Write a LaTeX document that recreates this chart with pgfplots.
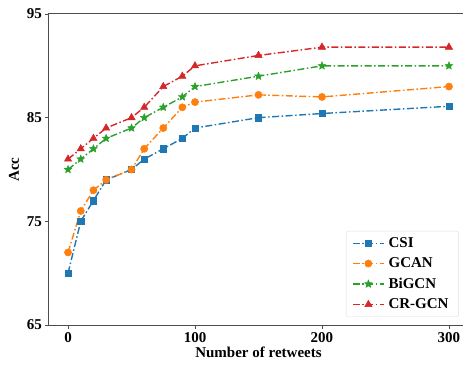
\documentclass[border=0pt]{standalone}
\usepackage{fontspec}
\setmainfont{Liberation Serif}
\usepackage{pgfplots}
\pgfplotsset{compat=1.18}
\usetikzlibrary{plotmarks}
\definecolor{cblue}{HTML}{1F77B4}
\definecolor{corange}{HTML}{FF7F0E}
\definecolor{cgreen}{HTML}{2CA02C}
\definecolor{cred}{HTML}{D62728}
\pgfdeclareplotmark{fstar}{%
  \pgfpathmoveto{\pgfpointpolar{90}{\pgfplotmarksize}}%
  \pgfpathlineto{\pgfpointpolar{126}{0.45\pgfplotmarksize}}%
  \pgfpathlineto{\pgfpointpolar{162}{\pgfplotmarksize}}%
  \pgfpathlineto{\pgfpointpolar{198}{0.45\pgfplotmarksize}}%
  \pgfpathlineto{\pgfpointpolar{234}{\pgfplotmarksize}}%
  \pgfpathlineto{\pgfpointpolar{270}{0.45\pgfplotmarksize}}%
  \pgfpathlineto{\pgfpointpolar{306}{\pgfplotmarksize}}%
  \pgfpathlineto{\pgfpointpolar{342}{0.45\pgfplotmarksize}}%
  \pgfpathlineto{\pgfpointpolar{18}{\pgfplotmarksize}}%
  \pgfpathlineto{\pgfpointpolar{54}{0.45\pgfplotmarksize}}%
  \pgfpathclose\pgfusepathqfillstroke}
\begin{document}
\begin{tikzpicture}
\begin{axis}[
  at={(0,0)}, anchor=south west,
  scale only axis, width=419pt, height=311pt,
  xmin=-15, xmax=315, ymin=65, ymax=95,
  xtick={0,100,200,300}, ytick={65,75,85,95},
  tick pos=left, tick align=outside,
  major tick length=3.5pt,
  every tick/.style={gray!60!black, line width=0.8pt},
  axis line style={gray!60!black, line width=1pt},
  /pgf/number format/assume math mode=true,
  ticklabel style={font=\fontsize{15}{18}\selectfont\bfseries},
  xlabel={Number of retweets}, ylabel={Acc},
  every axis x label/.style={at={(axis description cs:0.5,-0.087)}, anchor=center, font=\fontsize{15}{18}\selectfont\bfseries},
  every axis y label/.style={at={(axis description cs:-0.0835,0.5)}, rotate=90, anchor=center, font=\fontsize{15}{18}\selectfont\bfseries},
  legend cell align=left,
  legend style={at={(0.978,0.026)}, anchor=south east, draw=gray!25, rounded corners=2pt,
    font=\fontsize{15}{18}\selectfont\bfseries, row sep=4.8pt, inner xsep=6pt, inner ysep=4.5pt,
    nodes={inner xsep=4pt}},
  legend image code/.code={\draw[mark repeat=2,mark phase=2] plot coordinates {(0pt,0pt) (15.5pt,0pt) (31pt,0pt)};},
  every axis plot/.append style={line width=1.4pt, dash pattern=on 7pt off 2.5pt on 1.5pt off 2.5pt, mark size=3.6pt,
    mark options={solid, line width=0.5pt}},
]
\addplot[color=cblue, mark=square*, mark size=3.2pt] coordinates {
(0,70) (10,75) (20,77) (30,79) (50,80) (60,81) (75,82) (90,83) (100,84) (150,85) (200,85.4) (300,86.1)};
\addlegendentry{CSI}
\addplot[color=corange, mark=*] coordinates {
(0,72) (10,76) (20,78) (30,79) (50,80) (60,82) (75,84) (90,86) (100,86.5) (150,87.2) (200,87) (300,88)};
\addlegendentry{GCAN}
\addplot[color=cgreen, mark=fstar, mark size=4pt] coordinates {
(0,80) (10,81) (20,82) (30,83) (50,84) (60,85) (75,86) (90,87) (100,88) (150,89) (200,90) (300,90)};
\addlegendentry{BiGCN}
\addplot[color=cred, mark=triangle*, mark size=4.2pt] coordinates {
(0,81) (10,82) (20,83) (30,84) (50,85) (60,86) (75,88) (90,89) (100,90) (150,91) (200,91.8) (300,91.8)};
\addlegendentry{CR-GCN}
\end{axis}
\pgfresetboundingbox
\path[use as bounding box] (-49pt,-39pt) rectangle (414pt,325pt);
\end{tikzpicture}
\end{document}
